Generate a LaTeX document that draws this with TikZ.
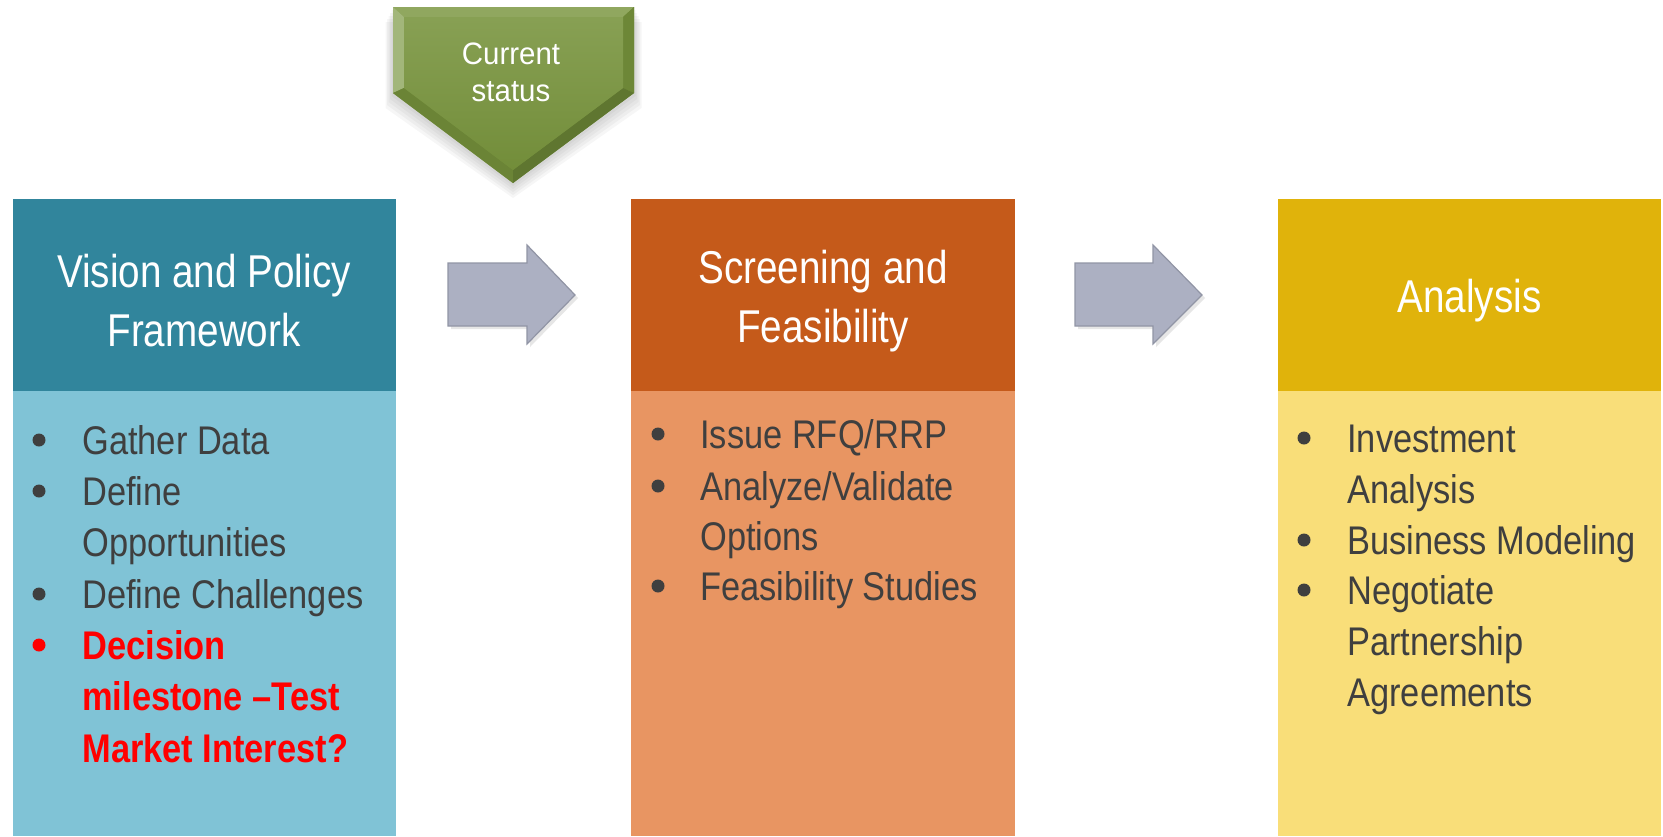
\documentclass[tikz,border=0pt]{standalone}
\usepackage{fontspec}
\setmainfont{Liberation Sans}
\newfontfamily\bodyfont{Liberation Sans}[FakeStretch=0.86]
\newfontfamily\headfont{Liberation Sans}[FakeStretch=0.84]
\newfontfamily\tagfont{Liberation Sans}[FakeStretch=0.95]
\usetikzlibrary{shadows}

\definecolor{tealdark}{HTML}{31859C}
\definecolor{teallight}{HTML}{80C3D6}
\definecolor{rustdark}{HTML}{C55A1A}
\definecolor{rustlight}{HTML}{E89562}
\definecolor{golddark}{HTML}{E0B30B}
\definecolor{goldlight}{HTML}{F9DE79}
\definecolor{arrowgray}{HTML}{ACB0C2}
\definecolor{arrowedge}{HTML}{9195A5}
\definecolor{chevgreen}{HTML}{77933C}
\definecolor{inkgray}{HTML}{3F3F3F}
\definecolor{alertred}{HTML}{FF0000}

\begin{document}
\begin{tikzpicture}[x=0.5pt, y=-0.5pt,
  headtext/.style={text=white, align=center, font=\headfont\fontsize{23}{29.5}\selectfont},
  tagtext/.style={text=white, align=center, font=\tagfont\fontsize{15.5}{18.5}\selectfont},
  itemtext/.style={anchor=base west, inner sep=0pt, text=inkgray, font=\bodyfont\fontsize{20}{25}\selectfont},
  alerttext/.style={itemtext, text=alertred, font=\bodyfont\bfseries\fontsize{20}{25}\selectfont},
  dot/.style={circle, fill=inkgray, inner sep=0pt, minimum size=6.5pt},
  alertdot/.style={dot, fill=alertred},
  blockarrow/.style={fill=arrowgray, draw=arrowedge, line width=0.6pt,
    drop shadow={opacity=0.2, shadow xshift=1.5pt, shadow yshift=-1.5pt}}]

  \useasboundingbox (0,0) rectangle (1663,836);

  % --- Current status marker ---
  \foreach \d in {3,6,9,12,15}
    \fill[black, opacity=0.035] (393-\d/2,7+\d) -- (634+\d/2,7+\d) -- (634+\d/2,93+\d)
      -- (513,183+\d) -- (393-\d/2,93+\d) -- cycle;
  \fill[chevgreen] (393,7) -- (634,7) -- (634,93) -- (513,183) -- (393,93) -- cycle;
  \fill[chevgreen!82!white] (393,7) -- (634,7) -- (623,17) -- (404,17) -- cycle;
  \fill[chevgreen!68!white] (393,7) -- (404,17) -- (404,88) -- (393,93) -- cycle;
  \fill[chevgreen!92!black] (634,7) -- (634,93) -- (623,88) -- (623,17) -- cycle;
  \fill[chevgreen!90!black] (393,93) -- (404,88) -- (513,170) -- (513,183) -- cycle;
  \fill[chevgreen!80!black] (634,93) -- (513,183) -- (513,170) -- (623,88) -- cycle;
  \shade[top color=chevgreen!88!white, bottom color=chevgreen!96!black]
    (404,17) -- (623,17) -- (623,88) -- (513,170) -- (404,88) -- cycle;
  \node[tagtext] (status) at (511,72) {Current\\status};

  % --- Block arrows ---
  \filldraw[blockarrow] (448,263) -- (527,263) -- (527,245) -- (575,295)
    -- (527,344) -- (527,326) -- (448,326) -- cycle;
  \filldraw[blockarrow] (1075,263) -- (1153,263) -- (1153,245) -- (1202,295)
    -- (1153,344) -- (1153,326) -- (1075,326) -- cycle;

  % --- Vision and Policy Framework ---
  \fill[tealdark] (12.7,199) rectangle (395.6,391);
  \fill[teallight] (12.7,391) rectangle (395.6,836);
  \node[headtext] (vision) at (204,301) {Vision and Policy\\Framework};

  \node[dot] (vb1) at (39,440) {};
  \node[itemtext] (v1) at (82,454) {Gather Data};
  \node[dot] (vb2) at (39,491) {};
  \node[itemtext] (v2) at (82,505) {Define};
  \node[itemtext] (v3) at (82,556) {Opportunities};
  \node[dot] (vb3) at (39,594) {};
  \node[itemtext] (v4) at (82,608) {Define Challenges};
  \node[alertdot] (vb4) at (39,645) {};
  \node[alerttext] (v5) at (82,659) {Decision};
  \node[alerttext] (v6) at (82,710) {milestone –Test};
  \node[alerttext] (v7) at (82,762) {Market Interest?};

  % --- Screening and Feasibility ---
  \fill[rustdark] (631,199) rectangle (1015,391);
  \fill[rustlight] (631,391) rectangle (1015,836);
  \node[headtext] (screen) at (823,301) {Screening and\\Feasibility};

  \node[dot] (sb1) at (658,434) {};
  \node[itemtext] (s1) at (700,448) {Issue RFQ/RRP};
  \node[dot] (sb2) at (658,486) {};
  \node[itemtext] (s2) at (700,500) {Analyze/Validate};
  \node[itemtext] (s3) at (700,550) {Options};
  \node[dot] (sb3) at (658,586) {};
  \node[itemtext] (s4) at (700,600) {Feasibility Studies};

  % --- Analysis ---
  \fill[golddark] (1278,199) rectangle (1661,391);
  \fill[goldlight] (1278,391) rectangle (1661,836);
  \node[headtext] (analysis) at (1469.5,301) {Analysis};

  \node[dot] (ab1) at (1304,438) {};
  \node[itemtext] (a1) at (1347,452) {Investment};
  \node[itemtext] (a2) at (1347,503) {Analysis};
  \node[dot] (ab2) at (1304,540) {};
  \node[itemtext] (a3) at (1347,554) {Business Modeling};
  \node[dot] (ab3) at (1304,590) {};
  \node[itemtext] (a4) at (1347,604) {Negotiate};
  \node[itemtext] (a5) at (1347,655) {Partnership};
  \node[itemtext] (a6) at (1347,706) {Agreements};

\end{tikzpicture}
\end{document}
